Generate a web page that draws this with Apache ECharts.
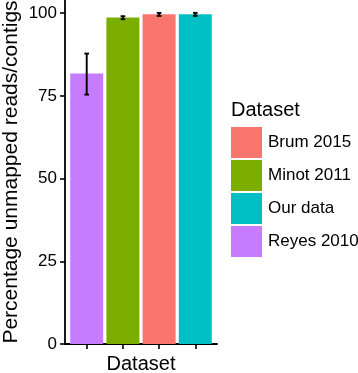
<!DOCTYPE html>
<html>
<head>
<meta charset="utf-8">
<script src="https://cdn.jsdelivr.net/npm/echarts@6/dist/echarts.min.js"></script>
<style>
  html, body { margin: 0; padding: 0; background: #fff; }
  #chart { width: 358px; height: 373px; }
</style>
</head>
<body>
<div id="chart"></div>
<script>
// data
const datasets = ['Brum 2015', 'Minot 2011', 'Our data', 'Reyes 2010']
const colors = ['#F8766D', '#7CAE00', '#00BFC4', '#C77CFF']
const xPos = [3, 2, 4, 1]            // plotting order on the x axis
const means = [99.7, 98.7, 99.7, 81.8]
const lows = [99.2, 98.2, 99.2, 75.4]
const highs = [100.1, 99.1, 100.1, 87.8]
const yTicks = [0, 25, 50, 75, 100]

const font = 'Liberation Sans, Arial, sans-serif'
const chart = echarts.init(document.getElementById('chart'))

const barSeries = datasets.map((name, i) => ({
  name,
  type: 'bar',
  barWidth: 33,
  barGap: '-100%',
  itemStyle: { color: colors[i] },
  data: [[xPos[i], means[i]]]
}))

// error bars
const errSeries = {
  type: 'custom',
  silent: true,
  data: datasets.map((d, i) => [xPos[i], lows[i], highs[i]]),
  renderItem: (params, api) => {
    const lo = api.coord([api.value(0), api.value(1)])
    const hi = api.coord([api.value(0), api.value(2)])
    const w = 2.3
    const style = { stroke: '#000', lineWidth: 1.9 }
    return {
      type: 'group',
      children: [
        { type: 'line', shape: { x1: lo[0], y1: lo[1], x2: hi[0], y2: hi[1] }, style },
        { type: 'line', shape: { x1: lo[0] - w, y1: lo[1], x2: lo[0] + w, y2: lo[1] }, style },
        { type: 'line', shape: { x1: hi[0] - w, y1: hi[1], x2: hi[0] + w, y2: hi[1] }, style }
      ]
    }
  },
  z: 10
}

chart.setOption({
  animation: false,
  textStyle: { fontFamily: font, color: '#000' },
  grid: { left: 65, top: 0, width: 152, height: 344, containLabel: false, outerBoundsMode: 'none' },
  xAxis: {
    type: 'value',
    min: 0.4,
    max: 4.6,
    name: 'Dataset',
    nameLocation: 'middle',
    nameGap: 10,
    nameTextStyle: { fontSize: 20, color: '#000', fontFamily: font, verticalAlign: 'top' },
    axisLine: { show: true, lineStyle: { color: '#000', width: 1.8 } },
    axisTick: { show: true, customValues: [1, 2, 3, 4], length: 5, lineStyle: { color: '#000', width: 1.6 } },
    axisLabel: { show: false },
    splitLine: { show: false }
  },
  yAxis: {
    type: 'value',
    min: 0,
    max: 104,
    name: 'Percentage unmapped reads/contigs',
    nameLocation: 'middle',
    nameGap: 43,
    nameTextStyle: { fontSize: 21, color: '#000', fontFamily: font },
    axisLine: { show: true, lineStyle: { color: '#000', width: 1.8 } },
    axisTick: { show: true, customValues: yTicks, length: 5, lineStyle: { color: '#000', width: 1.6 } },
    axisLabel: { customValues: yTicks, fontSize: 17, color: '#000', fontFamily: font, margin: 8 },
    splitLine: { show: false }
  },
  legend: {
    data: datasets,
    orient: 'vertical',
    left: 231,
    top: 127,
    padding: 0,
    itemWidth: 31,
    itemHeight: 31,
    itemGap: 2,
    icon: 'rect',
    textStyle: { fontSize: 17, color: '#000', fontFamily: font, padding: [0, 0, 0, 1] }
  },
  title: {
    text: 'Dataset',
    left: 231,
    top: 100,
    padding: 0,
    textStyle: { fontSize: 20, fontWeight: 'normal', color: '#000', fontFamily: font }
  },
  series: [...barSeries, errSeries]
})
</script>
</body>
</html>
